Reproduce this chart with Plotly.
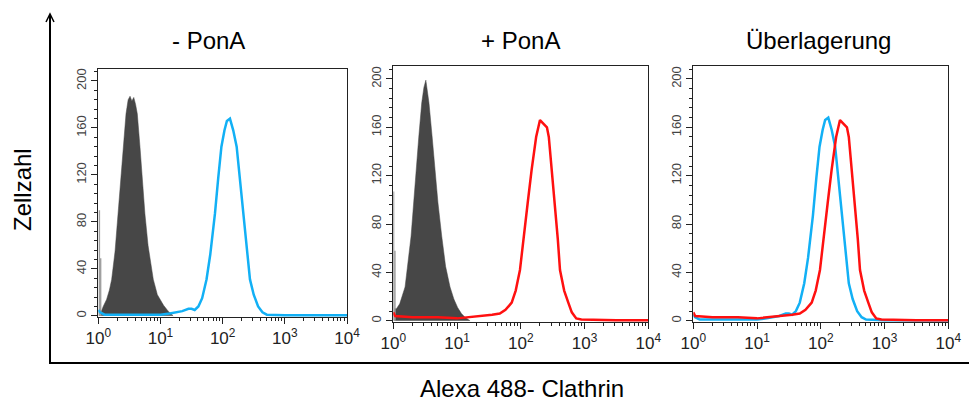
import plotly.graph_objects as go

# ---------------- data (fluorescence intensity, cell count) ----------------
gray1_x = [1.02, 1.12, 1.20, 1.36, 1.51, 1.64, 1.86, 2.09, 2.29, 2.51, 2.79, 3.02, 3.24, 3.47,
           3.72, 3.98, 4.24, 4.68, 5.13, 5.62, 6.31, 7.67, 8.91, 9.77, 11.2, 13.3, 15.1, 16.0]
gray1_y = [3, 4, 8, 14, 22, 31, 55, 87, 115, 144, 172, 184, 187, 183,
           186, 180, 172, 144, 115, 87, 60, 31, 18, 14, 9, 4, 1, 0]

gray2_x = [1.03, 1.12, 1.26, 1.53, 1.90, 2.27, 2.51, 2.79, 3.02, 3.24, 3.43, 3.63, 4.07,
           4.51, 5.01, 5.75, 6.61, 7.76, 8.91, 10.2, 11.7, 13.3, 14.8, 16.0]
gray2_y = [10, 10, 14, 28, 70, 125, 152, 180, 193, 199, 190, 180, 152,
           125, 98, 70, 45, 28, 18, 11, 6, 3, 1, 0]

spike1_x = [1.04, 1.09]
spike1_y = [90, 49]
spike2_x = [1.01, 1.06]
spike2_y = [107, 58]

blue_x = [1.0, 1.07, 1.26, 3.16, 10.0, 14.1, 17.8, 22.4, 28.2, 31.6, 35.5, 40.7, 46.8, 55.0,
          63.1, 75.2, 85.1, 95.5, 107, 117, 131, 141, 148, 168, 191, 214, 245, 275, 316,
          372, 437, 513, 1000, 10000]
blue_y = [5, 3, 1, 1, 1, 2, 3, 4, 6, 6, 5, 8, 15, 31,
          52, 87, 118, 144, 158, 166, 168, 163, 158, 144, 115, 87, 55, 31, 18,
          8, 3, 1, 0.5, 0.5]

red_x = [1.0, 1.07, 2.0, 5.0, 10.0, 15.8, 25.1, 35.5, 46.8, 57.5, 72.0, 83.2, 97.0, 112,
         128, 148, 174, 200, 224, 257, 275, 305, 344, 380, 412, 479, 556, 631, 741,
         891, 3162, 10000]
red_y = [7, 4, 3, 3, 2, 3, 4, 5, 6, 9, 15, 25, 42, 68,
         97, 125, 152, 166, 163, 160, 152, 125, 97, 68, 42, 25, 15, 7, 2,
         1, 0.5, 0.5]

panel_titles = ["- PonA", "+ PonA", "Überlagerung"]
x_tickvals = [1, 10, 100, 1000, 10000]
x_ticktext = ["10<sup>0</sup>", "10<sup>1</sup>", "10<sup>2</sup>", "10<sup>3</sup>", "10<sup>4</sup>"]
y_tickvals = [0, 40, 80, 120, 160, 200]
y_label = "Zellzahl"
x_label = "Alexa 488- Clathrin"

# ---------------- styles ----------------
BLUE = "#12b0f5"
RED = "#ff1010"
GRAY_FILL = "#474747"
SPIKE = "#a0a0a0"
FONT = "Liberation Sans, Arial, sans-serif"

W, H = 969, 403
domains_x = [(98.3 / W, 347.0 / W), (393.3 / W, 648.3 / W), (693.3 / W, 948.3 / W)]
domains_y = [(1 - 317 / H, 1 - 69 / H), (1 - 322 / H, 1 - 66 / H), (1 - 322 / H, 1 - 66 / H)]
y_ranges = [[-1, 210.2], [-1, 210.7], [-1, 210.7]]

minor_x = [m * 10 ** k for k in range(4) for m in range(2, 10)]

fig = go.Figure()


def spikes(xs, ys):
    sx, sy = [], []
    for a, b in zip(xs, ys):
        sx += [a, a, None]
        sy += [0, b, None]
    return sx, sy


# Panel 1
fig.add_trace(go.Scatter(x=gray1_x, y=gray1_y, mode="lines", fill="tozeroy",
                         fillcolor=GRAY_FILL, line=dict(color=GRAY_FILL, width=0.5),
                         xaxis="x", yaxis="y", showlegend=False))
sx, sy = spikes(spike1_x, spike1_y)
fig.add_trace(go.Scatter(x=sx, y=sy, mode="lines", line=dict(color=SPIKE, width=1.5),
                         xaxis="x", yaxis="y", showlegend=False))
fig.add_trace(go.Scatter(x=blue_x, y=blue_y, mode="lines", line=dict(color=BLUE, width=2.5),
                         xaxis="x", yaxis="y", showlegend=False))

# Panel 2
fig.add_trace(go.Scatter(x=gray2_x, y=gray2_y, mode="lines", fill="tozeroy",
                         fillcolor=GRAY_FILL, line=dict(color=GRAY_FILL, width=0.5),
                         xaxis="x2", yaxis="y2", showlegend=False))
sx, sy = spikes(spike2_x, spike2_y)
fig.add_trace(go.Scatter(x=sx, y=sy, mode="lines", line=dict(color=SPIKE, width=1.5),
                         xaxis="x2", yaxis="y2", showlegend=False))
fig.add_trace(go.Scatter(x=red_x, y=red_y, mode="lines", line=dict(color=RED, width=2.5),
                         xaxis="x2", yaxis="y2", showlegend=False))

# Panel 3
fig.add_trace(go.Scatter(x=blue_x, y=blue_y, mode="lines", line=dict(color=BLUE, width=2.5),
                         xaxis="x3", yaxis="y3", showlegend=False))
fig.add_trace(go.Scatter(x=red_x, y=red_y, mode="lines", line=dict(color=RED, width=2.5),
                         xaxis="x3", yaxis="y3", showlegend=False))

layout = dict(
    width=W, height=H, margin=dict(l=0, r=0, t=0, b=0, autoexpand=False),
    paper_bgcolor="white", plot_bgcolor="white",
    font=dict(family=FONT, color="black"),
    showlegend=False,
)

for i in range(3):
    xs = "xaxis" if i == 0 else f"xaxis{i+1}"
    ys = "yaxis" if i == 0 else f"yaxis{i+1}"
    anchor_y = "y" if i == 0 else f"y{i+1}"
    anchor_x = "x" if i == 0 else f"x{i+1}"
    layout[xs] = dict(
        type="log", range=[0, 4], domain=list(domains_x[i]), anchor=anchor_y,
        automargin=False,
        showline=True, linecolor="#222", linewidth=1, mirror=True,
        showgrid=False, zeroline=False,
        tickvals=x_tickvals, ticktext=x_ticktext, ticks="outside", ticklen=6,
        tickcolor="#222", tickfont=dict(size=17, color="#222", family=FONT),
        minor=dict(tickvals=minor_x, ticks="outside", ticklen=3, tickcolor="#222", showgrid=False),
        fixedrange=True,
    )
    layout[ys] = dict(
        range=y_ranges[i], domain=list(domains_y[i]), anchor=anchor_x,
        automargin=False,
        showline=True, linecolor="#222", linewidth=1, mirror=True,
        showgrid=False, zeroline=False,
        tickvals=y_tickvals, ticks="outside", ticklen=6, tickcolor="#222",
        tickangle=-90, tickfont=dict(size=13, color="#444", family=FONT),
        minor=dict(dtick=8, tick0=0, ticks="outside", ticklen=3, tickcolor="#222", showgrid=False),
        fixedrange=True,
    )

fig.update_layout(**layout)

# Panel titles
title_x = [208 / W, 520 / W, 818 / W]
for t, tx in zip(panel_titles, title_x):
    fig.add_annotation(text=t, x=tx, y=1 - 40 / H, xref="paper", yref="paper",
                       showarrow=False, font=dict(size=24, color="black", family=FONT),
                       xanchor="center", yanchor="middle")

# Axis labels
fig.add_annotation(text=y_label, x=22 / W, y=1 - 190 / H, xref="paper", yref="paper",
                   showarrow=False, textangle=-90,
                   font=dict(size=24, color="black", family=FONT),
                   xanchor="center", yanchor="middle")
fig.add_annotation(text=x_label, x=522 / W, y=1 - 388 / H, xref="paper", yref="paper",
                   showarrow=False, font=dict(size=24, color="black", family=FONT),
                   xanchor="center", yanchor="middle")

# Outer axis lines with arrow
fig.add_shape(type="line", xref="paper", yref="paper",
              x0=50 / W, x1=50 / W, y0=1 - 364 / H, y1=1 - 15 / H,
              line=dict(color="black", width=2))
fig.add_shape(type="line", xref="paper", yref="paper",
              x0=49 / W, x1=1.0, y0=1 - 363 / H, y1=1 - 363 / H,
              line=dict(color="black", width=2))
fig.add_shape(type="path", xref="paper", yref="paper",
              path=f"M {46/W} {1-22/H} L {50/W} {1-14/H} L {54/W} {1-22/H}",
              line=dict(color="black", width=1.5))

fig.write_html("out.html", config={"displayModeBar": False},
               post_script="document.body.style.margin='0px';document.body.style.overflow='hidden';")
